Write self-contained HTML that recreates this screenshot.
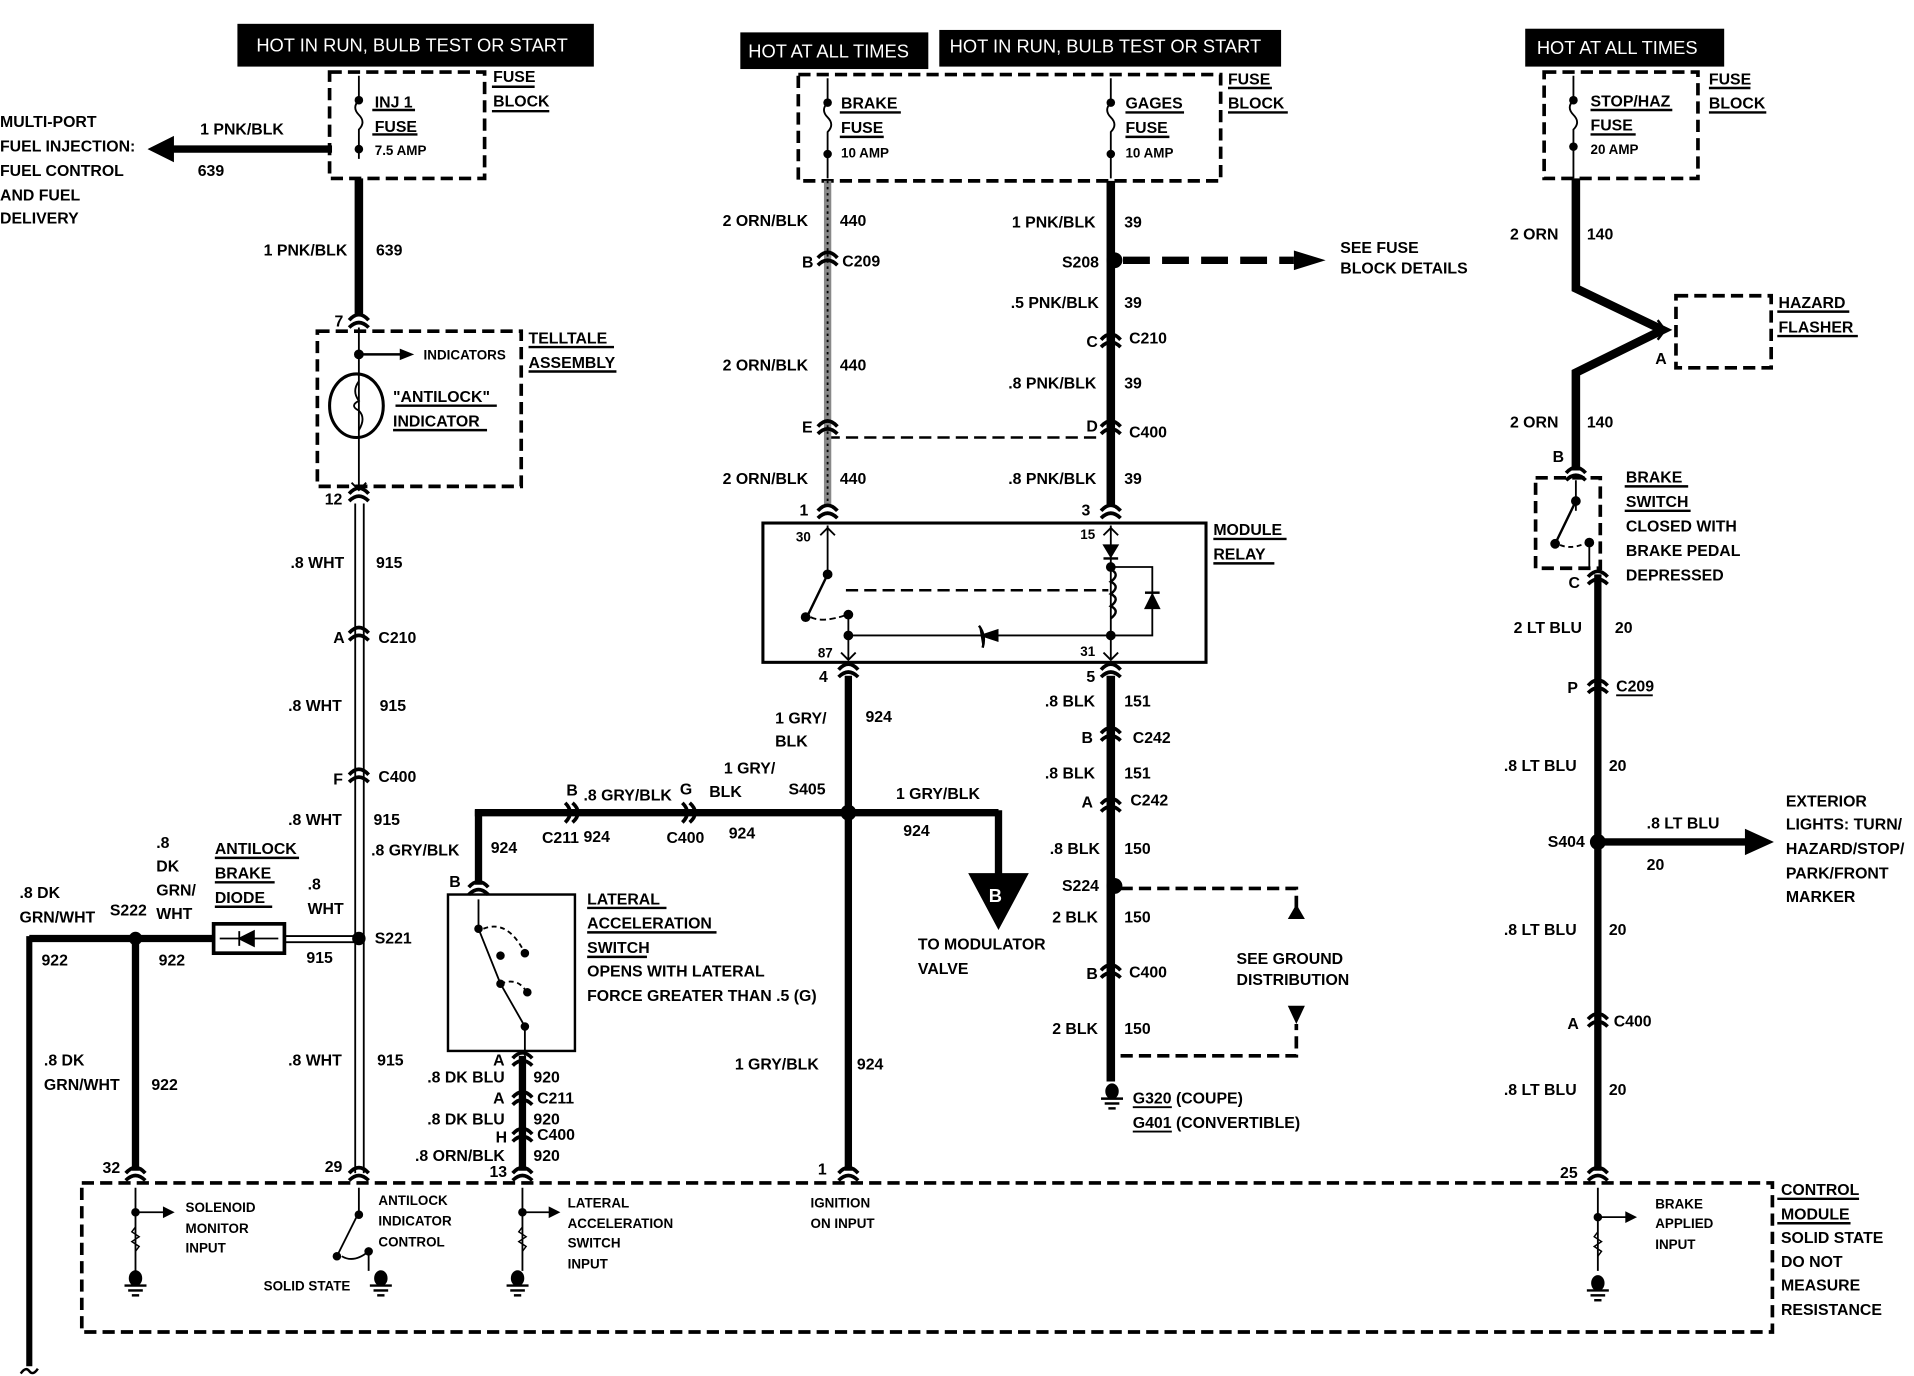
<!DOCTYPE html>
<html><head><meta charset="utf-8"><style>
html,body{margin:0;padding:0;background:#fff;}
svg{display:block}
text{font-family:"Liberation Sans",sans-serif;font-weight:bold;font-size:13px;fill:#000}
.s{font-size:11px}
.w{fill:#fff;font-weight:normal;font-size:15px}
</style></head><body>
<svg width="1914" height="1376" viewBox="0 0 1568 1126" preserveAspectRatio="none" xmlns="http://www.w3.org/2000/svg">
<defs>
<g id="cv"><path d="M-8 -2 Q0 -11 8 -2" fill="none" stroke="#000" stroke-width="3"/><path d="M-8 4 Q0 -4 8 4" fill="none" stroke="#000" stroke-width="3"/></g>
<g id="gnd"><ellipse cx="0" cy="0" rx="5" ry="6" fill="#000"/><line x1="-9" y1="6" x2="9" y2="6" stroke="#000" stroke-width="2"/><line x1="-6" y1="10" x2="6" y2="10" stroke="#000" stroke-width="2"/><line x1="-3" y1="14" x2="3" y2="14" stroke="#000" stroke-width="2"/></g>
</defs>
<g fill="none" stroke="#000">
<!-- header boxes -->
<rect x="195" y="20" width="291" height="34" fill="#000"/>
<rect x="607" y="27" width="153" height="29" fill="#000"/>
<rect x="770" y="25" width="279" height="29" fill="#000"/>
<rect x="1250" y="24" width="162" height="30" fill="#000"/>
<!-- fuse blocks -->
<g stroke-width="3" stroke-dasharray="10 5">
<rect x="270" y="59" width="127" height="87"/>
<rect x="654" y="61" width="346" height="87"/>
<rect x="1265" y="59" width="126" height="87"/>
<rect x="260" y="271" width="167" height="127"/>
<rect x="1373" y="242" width="78" height="59"/>
<rect x="1258" y="391" width="53" height="74"/>
<rect x="67" y="968" width="1385" height="122"/>
<line x1="678" y1="358" x2="903" y2="358" stroke-width="2"/>
<line x1="693" y1="483" x2="908" y2="483" stroke-width="2"/>
<path d="M918 727 H1062 V748"/>
<path d="M918 864 H1062 V838"/>
<line x1="920" y1="213" x2="1060" y2="213" stroke-width="6" stroke-dasharray="22 10"/>
</g>
<polygon points="1062,740 1055,752 1069,752" fill="#000" stroke="none"/>
<polygon points="1062,838 1055,823 1069,823" fill="#000" stroke="none"/>
<polygon points="1060,205 1086,213 1060,221" fill="#000" stroke="none"/>
<!-- fuses -->
<g stroke-width="1.5">
<path d="M294 62 V82 q-6 6 0 12 q6 6 0 12 V130"/>
<path d="M678 64 V84 q-6 6 0 12 q6 6 0 12 V146"/>
<path d="M910 64 V84 q-6 6 0 12 q6 6 0 12 V146"/>
<path d="M1289 62 V82 q-6 6 0 12 q6 6 0 12 V146"/>
</g>
<g fill="#000" stroke="none">
<circle cx="294" cy="82" r="3.5"/><circle cx="294" cy="122" r="3.5"/>
<circle cx="678" cy="84" r="3.5"/><circle cx="678" cy="126" r="3.5"/>
<circle cx="910" cy="84" r="3.5"/><circle cx="910" cy="126" r="3.5"/>
<circle cx="1289" cy="82" r="3.5"/><circle cx="1289" cy="120" r="3.5"/>
</g>
<!-- left injection arrow -->
<line x1="140" y1="122" x2="272" y2="122" stroke-width="6"/>
<polygon points="122,122 142,112 142,132" fill="#000"/>
<line x1="294" y1="146" x2="294" y2="258" stroke-width="7"/>
<use href="#cv" x="294" y="264"/>
<!-- telltale -->
<line x1="294" y1="268" x2="294" y2="398" stroke-width="1.5"/>
<circle cx="294" cy="290" r="3.5" fill="#000"/>
<line x1="294" y1="290" x2="330" y2="290" stroke-width="2"/><polygon points="338,290 328,286 328,294" fill="#000"/>
<ellipse cx="292" cy="332" rx="22" ry="26" stroke-width="2.5"/>
<path d="M294 312 q-6 8 0 16 q-8 4 0 8 q6 6 0 16" stroke-width="1.5"/>
<path d="M288 395 l6 6 l6 -6" stroke-width="1.5"/>
<use href="#cv" x="294" y="406"/>
<!-- white wire double line -->
<line x1="291" y1="412" x2="291" y2="960" stroke-width="1.5"/>
<line x1="298" y1="412" x2="298" y2="960" stroke-width="1.5"/>
<use href="#cv" x="294" y="520"/><use href="#cv" x="294" y="636"/>
<circle cx="294" cy="768" r="5" fill="#000"/>
<use href="#cv" x="294" y="962"/>
<!-- antilock diode line -->
<line x1="24" y1="768" x2="174" y2="768" stroke-width="6"/>
<rect x="175" y="756" width="58" height="24" stroke-width="3"/>
<path d="M180 768 H228 M196 762 V774 M196 768 L208 762 V774 Z" stroke-width="1.5" fill="#000"/>
<line x1="233" y1="766" x2="290" y2="766" stroke-width="1.5"/><line x1="233" y1="771" x2="290" y2="771" stroke-width="1.5"/>
<circle cx="111" cy="768" r="5" fill="#000"/>
<line x1="111" y1="768" x2="111" y2="958" stroke-width="6"/>
<use href="#cv" x="111" y="962"/>
<line x1="24" y1="766" x2="24" y2="1118" stroke-width="5"/>
<path d="M17 1124 q4 -6 7 -2 q3 4 7 -2" stroke-width="2"/>
<!-- brake fuse hatched wire -->
<line x1="678" y1="148" x2="678" y2="414" stroke="#888" stroke-width="6"/>
<line x1="678" y1="148" x2="678" y2="414" stroke="#000" stroke-width="1.5" stroke-dasharray="2 3"/>
<use href="#cv" x="678" y="213"/><use href="#cv" x="678" y="351"/><use href="#cv" x="678" y="420"/>
<!-- gages wire -->
<line x1="910" y1="148" x2="910" y2="414" stroke-width="7"/>
<circle cx="913" cy="213" r="6" fill="#000"/>
<use href="#cv" x="910" y="280"/><use href="#cv" x="910" y="351"/><use href="#cv" x="910" y="420"/>
<!-- module relay -->
<rect x="625" y="428" width="363" height="114" stroke-width="2.5"/>
<line x1="678" y1="430" x2="678" y2="468" stroke-width="1.5"/>
<path d="M672 438 l6 -6 l6 6" stroke-width="1.5"/>
<circle cx="678" cy="470" r="3.5" fill="#000"/>
<line x1="678" y1="470" x2="662" y2="503" stroke-width="2"/>
<circle cx="660" cy="505" r="3.5" fill="#000"/>
<path d="M664 505 q10 5 30 -2" stroke-dasharray="5 3" stroke-width="1.5"/>
<circle cx="695" cy="503" r="3.5" fill="#000"/>
<line x1="695" y1="503" x2="695" y2="540" stroke-width="1.5"/>
<circle cx="695" cy="520" r="3.5" fill="#000"/>
<line x1="695" y1="520" x2="910" y2="520" stroke-width="1.5"/>
<path d="M802 512 q6 8 3 18 M805 520 l12 -4 v8 z" stroke-width="2" fill="#000"/>
<path d="M689 534 l6 6 l6 -6 M904 534 l6 6 l6 -6 M904 438 l6 -6 l6 6" stroke-width="1.5"/>
<line x1="910" y1="430" x2="910" y2="540" stroke-width="1.5"/>
<polygon points="904,446 916,446 910,456" fill="#000"/><line x1="904" y1="457" x2="916" y2="457" stroke-width="2"/>
<path d="M910 466 q8 4 0 10 q8 4 0 10 q8 4 0 10 q8 4 0 10" stroke-width="2"/>
<path d="M910 464 H944 V520 H910" stroke-width="1.5"/>
<polygon points="938,498 950,498 944,486" fill="#000"/><line x1="938" y1="485" x2="950" y2="485" stroke-width="2"/>
<circle cx="910" cy="464" r="3.5" fill="#000"/><circle cx="910" cy="520" r="3.5" fill="#000"/>
<use href="#cv" x="695" y="550"/><use href="#cv" x="910" y="550"/>
<!-- 924 wire -->
<line x1="695" y1="553" x2="695" y2="958" stroke-width="6"/>
<circle cx="695" cy="665" r="6" fill="#000"/>
<line x1="389" y1="665" x2="818" y2="665" stroke-width="6"/>
<line x1="818" y1="663" x2="818" y2="715" stroke-width="6"/>
<polygon points="794,715 842,715 818,760" fill="#000"/>
<line x1="392" y1="663" x2="392" y2="724" stroke-width="6"/>
<use href="#cv" x="392" y="728" />
<g transform="translate(467 665) rotate(90)"><use href="#cv"/></g>
<g transform="translate(563 665) rotate(90)"><use href="#cv"/></g>
<use href="#cv" x="695" y="962"/>
<!-- lateral switch -->
<rect x="367" y="732" width="104" height="128" stroke-width="2"/>
<path d="M392 736 V760 L410 805 L430 840 V864" stroke-width="1.5"/>
<path d="M396 760 q20 -8 34 20 M410 805 q15 -6 22 8" stroke-dasharray="4 3" stroke-width="1.5"/>
<g fill="#000"><circle cx="392" cy="760" r="3"/><circle cx="410" cy="805" r="3"/><circle cx="430" cy="780" r="3"/><circle cx="410" cy="782" r="3"/><circle cx="432" cy="812" r="3"/><circle cx="430" cy="840" r="3"/></g>
<line x1="428" y1="864" x2="428" y2="958" stroke-width="6"/>
<use href="#cv" x="428" y="868"/><use href="#cv" x="428" y="900"/><use href="#cv" x="428" y="930"/><use href="#cv" x="428" y="962"/>
<!-- BLK ground -->
<line x1="910" y1="553" x2="910" y2="885" stroke-width="7"/>
<use href="#cv" x="910" y="602"/><use href="#cv" x="910" y="660"/><use href="#cv" x="910" y="796"/>
<circle cx="913" cy="725" r="6" fill="#000"/>
<use href="#gnd" x="911" y="893"/>
<!-- right brake -->
<path d="M1291 146 V236 L1362 270 L1291 305 V385" stroke-width="7"/>
<path d="M1358 262 l6 8 l-6 8" stroke-width="2"/>
<use href="#cv" x="1291" y="389"/>
<line x1="1291" y1="393" x2="1291" y2="418" stroke-width="1.5"/>
<circle cx="1291" cy="410" r="3.5" fill="#000"/>
<line x1="1291" y1="410" x2="1275" y2="443" stroke-width="2"/>
<circle cx="1274" cy="445" r="3.5" fill="#000"/>
<path d="M1278 446 q10 4 22 -2" stroke-dasharray="4 3" stroke-width="1.5"/>
<circle cx="1302" cy="444" r="3.5" fill="#000"/>
<line x1="1302" y1="444" x2="1302" y2="464" stroke-width="1.5"/>
<line x1="1309" y1="470" x2="1309" y2="958" stroke-width="6"/>
<use href="#cv" x="1309" y="474"/><use href="#cv" x="1309" y="563"/><use href="#cv" x="1309" y="836"/><use href="#cv" x="1309" y="962"/>
<circle cx="1309" cy="689" r="6" fill="#000"/>
<line x1="1309" y1="689" x2="1432" y2="689" stroke-width="6"/>
<polygon points="1452,689 1430,679 1430,699" fill="#000"/>
<!-- control module internals -->
<g stroke-width="1.5">
<path d="M111 972 V1040 M294 972 V992 M428 972 V1040 M1309 972 V1040"/>
<path d="M111 992 H136 M428 992 H452 M1309 996 H1334"/>
<path d="M294 992 L276 1028 M280 1028 q10 6 22 -4 M302 1024 V1040"/>
</g>
<g fill="#000">
<polygon points="142,992 134,988 134,996"/><polygon points="458,992 450,988 450,996"/><polygon points="1340,996 1332,992 1332,1000"/>
<circle cx="111" cy="992" r="3"/><circle cx="428" cy="992" r="3"/><circle cx="1309" cy="996" r="3"/><circle cx="294" cy="994" r="3"/><circle cx="276" cy="1028" r="3"/><circle cx="302" cy="1024" r="3"/>
</g>
<g stroke-width="1.2"><path d="M111 1004 l-3 4 l6 4 l-6 4 l6 4 l-3 4 M428 1004 l-3 4 l6 4 l-6 4 l6 4 l-3 4 M1309 1008 l-3 4 l6 4 l-6 4 l6 4 l-3 4"/></g>
<use href="#gnd" x="111" y="1046"/><use href="#gnd" x="312" y="1046"/><use href="#gnd" x="424" y="1046"/><use href="#gnd" x="1309" y="1050"/>
</g>
<!-- underlines -->
<g stroke="#000" stroke-width="2">
<line x1="403" y1="71" x2="438" y2="71"/><line x1="403" y1="91" x2="450" y2="91"/>
<line x1="305" y1="90" x2="340" y2="90"/><line x1="305" y1="110" x2="342" y2="110"/>
<line x1="1006" y1="72" x2="1042" y2="72"/><line x1="1006" y1="92" x2="1055" y2="92"/>
<line x1="688" y1="92" x2="738" y2="92"/><line x1="688" y1="112" x2="724" y2="112"/>
<line x1="922" y1="92" x2="970" y2="92"/><line x1="922" y1="112" x2="958" y2="112"/>
<line x1="1400" y1="72" x2="1434" y2="72"/><line x1="1400" y1="92" x2="1447" y2="92"/>
<line x1="1303" y1="90" x2="1370" y2="90"/><line x1="1303" y1="110" x2="1340" y2="110"/>
<line x1="433" y1="284" x2="503" y2="284"/><line x1="433" y1="304" x2="505" y2="304"/>
<line x1="324" y1="332" x2="407" y2="332"/><line x1="322" y1="352" x2="399" y2="352"/>
<line x1="994" y1="441" x2="1054" y2="441"/><line x1="994" y1="461" x2="1044" y2="461"/>
<line x1="1456" y1="255" x2="1515" y2="255"/><line x1="1456" y1="275" x2="1522" y2="275"/>
<line x1="1331" y1="398" x2="1383" y2="398"/><line x1="1331" y1="418" x2="1385" y2="418"/>
<line x1="176" y1="702" x2="245" y2="702"/><line x1="176" y1="722" x2="225" y2="722"/><line x1="176" y1="742" x2="223" y2="742"/>
<line x1="481" y1="743" x2="546" y2="743"/><line x1="481" y1="763" x2="587" y2="763"/><line x1="481" y1="783" x2="530" y2="783"/>
<line x1="1456" y1="981" x2="1523" y2="981"/><line x1="1456" y1="1001" x2="1516" y2="1001"/>
</g>
<!-- texts -->
<text class="w" x="210" y="42">HOT IN RUN, BULB TEST OR START</text>
<text class="w" x="613" y="47">HOT AT ALL TIMES</text>
<text class="w" x="778" y="43">HOT IN RUN, BULB TEST OR START</text>
<text class="w" x="1259" y="44">HOT AT ALL TIMES</text>
<text x="404" y="67">FUSE</text><text x="404" y="87">BLOCK</text>
<text x="307" y="88">INJ 1</text><text x="307" y="108">FUSE</text><text class="s" x="307" y="127">7.5 AMP</text>
<text x="0" y="104">MULTI-PORT</text><text x="0" y="124">FUEL INJECTION:</text><text x="0" y="144">FUEL CONTROL</text><text x="0" y="164">AND FUEL</text><text x="0" y="183">DELIVERY</text>
<text x="164" y="110">1 PNK/BLK</text><text x="162" y="144">639</text>
<text x="216" y="209">1 PNK/BLK</text><text x="308" y="209">639</text>
<text x="274" y="267">7</text>
<text class="s" x="347" y="294">INDICATORS</text>
<text x="433" y="281">TELLTALE</text><text x="433" y="301">ASSEMBLY</text>
<text x="322" y="329">"ANTILOCK"</text><text x="322" y="349">INDICATOR</text>
<text x="266" y="413">12</text>
<text x="238" y="465">.8 WHT</text><text x="308" y="465">915</text>
<text x="273" y="526">A</text><text x="310" y="526">C210</text>
<text x="236" y="582">.8 WHT</text><text x="311" y="582">915</text>
<text x="273" y="642">F</text><text x="310" y="640">C400</text>
<text x="236" y="675">.8 WHT</text><text x="306" y="675">915</text>
<text x="304" y="700">.8 GRY/BLK</text>
<text x="252" y="728">.8</text><text x="252" y="748">WHT</text>
<text x="251" y="788">915</text><text x="307" y="772">S221</text>
<text x="236" y="872">.8 WHT</text><text x="309" y="872">915</text>
<text x="266" y="959">29</text>
<text x="128" y="694">.8</text><text x="128" y="713">DK</text><text x="128" y="733">GRN/</text><text x="128" y="752">WHT</text>
<text x="176" y="699">ANTILOCK</text><text x="176" y="719">BRAKE</text><text x="176" y="739">DIODE</text>
<text x="16" y="735">.8 DK</text><text x="16" y="755">GRN/WHT</text>
<text x="90" y="749">S222</text><text x="34" y="790">922</text><text x="130" y="790">922</text>
<text x="36" y="872">.8 DK</text><text x="36" y="892">GRN/WHT</text><text x="124" y="892">922</text>
<text x="84" y="960">32</text>
<!-- middle -->
<text x="1006" y="69">FUSE</text><text x="1006" y="89">BLOCK</text>
<text x="689" y="89">BRAKE</text><text x="689" y="109">FUSE</text><text class="s" x="689" y="129">10 AMP</text>
<text x="922" y="89">GAGES</text><text x="922" y="109">FUSE</text><text class="s" x="922" y="129">10 AMP</text>
<text x="592" y="185">2 ORN/BLK</text><text x="688" y="185">440</text>
<text x="657" y="219">B</text><text x="690" y="218">C209</text>
<text x="592" y="303">2 ORN/BLK</text><text x="688" y="303">440</text>
<text x="657" y="354">E</text>
<text x="592" y="396">2 ORN/BLK</text><text x="688" y="396">440</text>
<text x="655" y="422">1</text>
<text x="829" y="186">1 PNK/BLK</text><text x="921" y="186">39</text>
<text x="870" y="219">S208</text>
<text x="1098" y="207">SEE FUSE</text><text x="1098" y="224">BLOCK DETAILS</text>
<text x="828" y="252">.5 PNK/BLK</text><text x="921" y="252">39</text>
<text x="890" y="284">C</text><text x="925" y="281">C210</text>
<text x="826" y="318">.8 PNK/BLK</text><text x="921" y="318">39</text>
<text x="890" y="353">D</text><text x="925" y="358">C400</text>
<text x="826" y="396">.8 PNK/BLK</text><text x="921" y="396">39</text>
<text x="886" y="422">3</text>
<text x="994" y="438">MODULE</text><text x="994" y="458">RELAY</text>
<text class="s" x="652" y="443">30</text><text class="s" x="885" y="441">15</text>
<text class="s" x="670" y="538">87</text><text class="s" x="885" y="537">31</text>
<text x="671" y="558">4</text><text x="890" y="558">5</text>
<text x="635" y="592">1 GRY/</text><text x="635" y="611">BLK</text><text x="709" y="591">924</text>
<text x="856" y="578">.8 BLK</text><text x="921" y="578">151</text>
<text x="886" y="608">B</text><text x="928" y="608">C242</text>
<text x="856" y="637">.8 BLK</text><text x="921" y="637">151</text>
<text x="886" y="661">A</text><text x="926" y="659">C242</text>
<text x="860" y="699">.8 BLK</text><text x="921" y="699">150</text>
<text x="870" y="729">S224</text>
<text x="862" y="755">2 BLK</text><text x="921" y="755">150</text>
<text x="890" y="801">B</text><text x="925" y="800">C400</text>
<text x="862" y="846">2 BLK</text><text x="921" y="846">150</text>
<text x="1013" y="789">SEE GROUND</text><text x="1013" y="806">DISTRIBUTION</text>
<text x="928" y="903">G320 (COUPE)</text><text x="928" y="923">G401 (CONVERTIBLE)</text>
<line x1="928" y1="906" x2="960" y2="906" stroke="#000" stroke-width="1.5"/><line x1="928" y1="926" x2="960" y2="926" stroke="#000" stroke-width="1.5"/>
<text x="593" y="633">1 GRY/</text><text x="581" y="652">BLK</text>
<text x="646" y="650">S405</text>
<text x="734" y="654">1 GRY/BLK</text><text x="740" y="684">924</text>
<text x="597" y="686">924</text>
<text x="557" y="650">G</text><text x="546" y="690">C400</text>
<text x="464" y="651">B</text><text x="478" y="655">.8 GRY/BLK</text>
<text x="444" y="690">C211</text><text x="478" y="689">924</text>
<text x="402" y="698">924</text>
<text x="368" y="726">B</text>
<text class="w" x="810" y="738" style="fill:#fff;font-weight:bold">B</text>
<text x="752" y="777">TO MODULATOR</text><text x="752" y="797">VALVE</text>
<text x="481" y="740">LATERAL</text><text x="481" y="760">ACCELERATION</text><text x="481" y="780">SWITCH</text>
<text x="481" y="799">OPENS WITH LATERAL</text><text x="481" y="819">FORCE GREATER THAN .5 (G)</text>
<text x="404" y="872">A</text><text x="350" y="886">.8 DK BLU</text><text x="437" y="886">920</text>
<text x="404" y="903">A</text><text x="440" y="903">C211</text>
<text x="350" y="920">.8 DK BLU</text><text x="437" y="920">920</text>
<text x="406" y="935">H</text><text x="440" y="933">C400</text>
<text x="340" y="950">.8 ORN/BLK</text><text x="437" y="950">920</text>
<text x="401" y="963">13</text>
<text x="602" y="875">1 GRY/BLK</text><text x="702" y="875">924</text>
<text x="670" y="961">1</text>
<!-- right -->
<text x="1400" y="69">FUSE</text><text x="1400" y="89">BLOCK</text>
<text x="1303" y="87">STOP/HAZ</text><text x="1303" y="107">FUSE</text><text class="s" x="1303" y="126">20 AMP</text>
<text x="1237" y="196">2 ORN</text><text x="1300" y="196">140</text>
<text x="1457" y="252">HAZARD</text><text x="1457" y="272">FLASHER</text>
<text x="1356" y="298">A</text>
<text x="1237" y="350">2 ORN</text><text x="1300" y="350">140</text>
<text x="1272" y="378">B</text>
<text x="1332" y="395">BRAKE</text><text x="1332" y="415">SWITCH</text><text x="1332" y="435">CLOSED WITH</text><text x="1332" y="455">BRAKE PEDAL</text><text x="1332" y="475">DEPRESSED</text>
<text x="1285" y="481">C</text>
<text x="1240" y="518">2 LT BLU</text><text x="1323" y="518">20</text>
<text x="1284" y="567">P</text><text x="1324" y="566">C209</text>
<line x1="1324" y1="569" x2="1354" y2="569" stroke="#000" stroke-width="1.5"/>
<text x="1232" y="631">.8 LT BLU</text><text x="1318" y="631">20</text>
<text x="1268" y="693">S404</text>
<text x="1349" y="678">.8 LT BLU</text><text x="1349" y="712">20</text>
<text x="1463" y="660">EXTERIOR</text><text x="1463" y="679">LIGHTS:  TURN/</text><text x="1463" y="699">HAZARD/STOP/</text><text x="1463" y="719">PARK/FRONT</text><text x="1463" y="738">MARKER</text>
<text x="1232" y="765">.8 LT BLU</text><text x="1318" y="765">20</text>
<text x="1284" y="842">A</text><text x="1322" y="840">C400</text>
<text x="1232" y="896">.8 LT BLU</text><text x="1318" y="896">20</text>
<text x="1278" y="964">25</text>
<text x="1459" y="978">CONTROL</text><text x="1459" y="998">MODULE</text><text x="1459" y="1017">SOLID STATE</text><text x="1459" y="1037">DO NOT</text><text x="1459" y="1056">MEASURE</text><text x="1459" y="1076">RESISTANCE</text>
<g class="s">
<text class="s" x="152" y="992">SOLENOID</text><text class="s" x="152" y="1009">MONITOR</text><text class="s" x="152" y="1025">INPUT</text>
<text class="s" x="310" y="986">ANTILOCK</text><text class="s" x="310" y="1003">INDICATOR</text><text class="s" x="310" y="1020">CONTROL</text>
<text class="s" x="216" y="1056">SOLID STATE</text>
<text class="s" x="465" y="988">LATERAL</text><text class="s" x="465" y="1005">ACCELERATION</text><text class="s" x="465" y="1021">SWITCH</text><text class="s" x="465" y="1038">INPUT</text>
<text class="s" x="664" y="988">IGNITION</text><text class="s" x="664" y="1005">ON INPUT</text>
<text class="s" x="1356" y="989">BRAKE</text><text class="s" x="1356" y="1005">APPLIED</text><text class="s" x="1356" y="1022">INPUT</text>
</g>
</svg>
</body></html>
